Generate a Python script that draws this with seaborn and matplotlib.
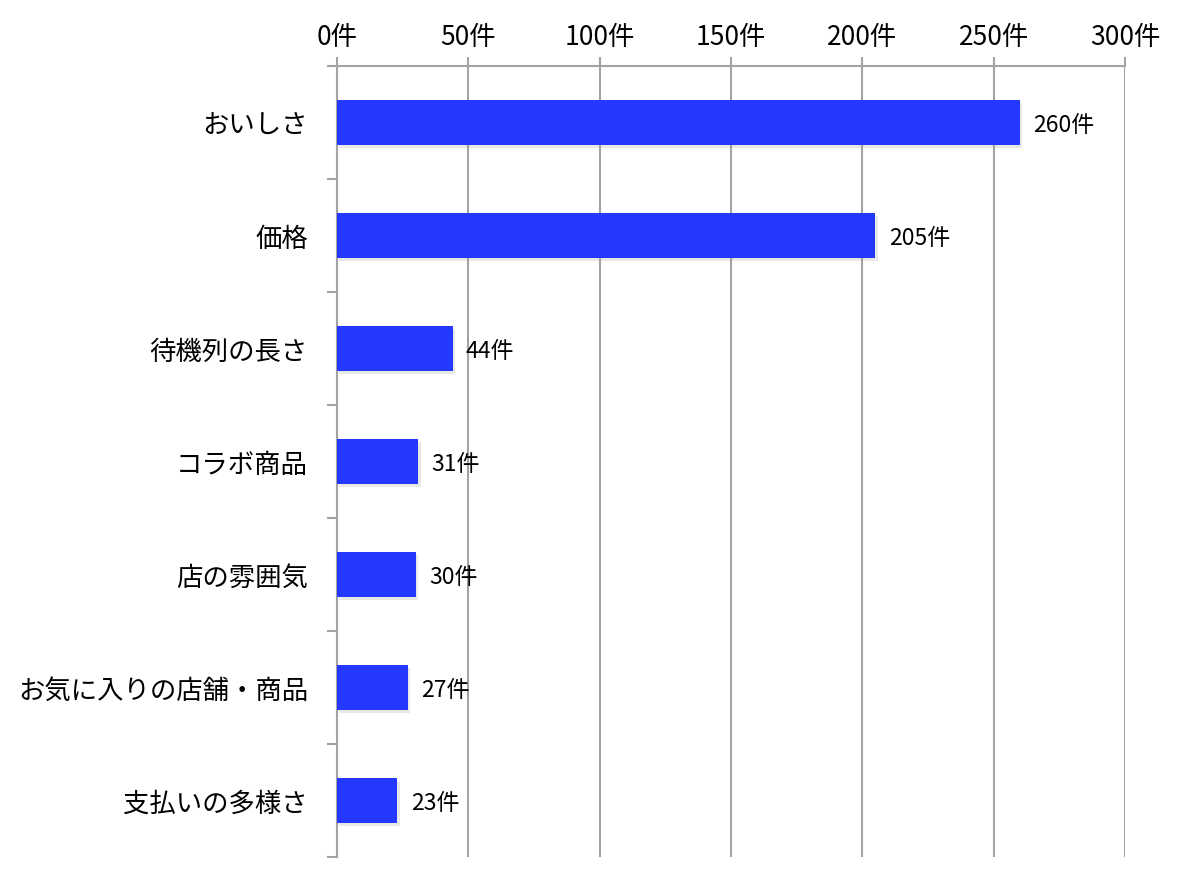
import matplotlib
matplotlib.use("Agg")
import matplotlib.pyplot as plt
import matplotlib.patheffects as pe
import pandas as pd
import seaborn as sns

categories = ["おいしさ", "価格", "待機列の長さ", "コラボ商品", "店の雰囲気", "お気に入りの店舗・商品", "支払いの多様さ"]
counts = [260, 205, 44, 31, 30, 27, 23]
x_ticks = [0, 50, 100, 150, 200, 250, 300]
x_tick_labels = [f"{t}件" for t in x_ticks]

BAR_COLOR = "#2438FF"
AXIS_GRAY = "#A3A3A3"

sns.set_style("white")
plt.rcParams["font.family"] = ["Noto Sans CJK JP", "DejaVu Sans"]
plt.rcParams["text.color"] = "black"
plt.rcParams["xtick.labelcolor"] = "black"
plt.rcParams["ytick.labelcolor"] = "black"

df = pd.DataFrame({"item": categories, "count": counts})

fig = plt.figure(figsize=(11.81, 8.87), dpi=100)
ax = fig.add_axes([0.2854, 0.0327, 0.9526 - 0.2854, 0.9245 - 0.0327])

sns.barplot(data=df, x="count", y="item", orient="h", color=BAR_COLOR,
            width=0.4, saturation=1, linewidth=0, ax=ax, zorder=3)

# soft drop shadow like the original spreadsheet chart
for bar in ax.patches:
    bar.set_path_effects([pe.SimplePatchShadow(offset=(1.5, -2), shadow_rgbFace="#9a9a9a", alpha=0.22),
                          pe.Normal()])

for i, v in enumerate(counts):
    ax.text(v + 5, i + 0.02, f"{v}件", va="center", ha="left", fontsize=16.5, color="black")

ax.set_xlim(0, 300)
ax.set_ylim(len(categories) - 0.5, -0.5)
ax.set_xlabel("")
ax.set_ylabel("")

ax.xaxis.tick_top()
ax.set_xticks(x_ticks)
ax.set_xticklabels(x_tick_labels, fontsize=19)
ax.tick_params(axis="x", which="major", direction="out", length=6.5, width=1.5,
               color=AXIS_GRAY, pad=5, top=True, bottom=False)

ax.set_yticks(range(len(categories)))
ax.set_yticklabels(categories, fontsize=19)
ax.tick_params(axis="y", which="major", length=0, pad=21)
ax.set_yticks([i - 0.5 for i in range(len(categories) + 1)], minor=True)
ax.tick_params(axis="y", which="minor", left=True, direction="out", length=7, width=1.5,
               color=AXIS_GRAY)

ax.grid(axis="x", color=AXIS_GRAY, linewidth=1.5, zorder=0)
ax.grid(axis="y", visible=False)
ax.set_axisbelow(True)

for side in ["right", "bottom"]:
    ax.spines[side].set_visible(False)
for side in ["top", "left"]:
    ax.spines[side].set_visible(True)
    ax.spines[side].set_color(AXIS_GRAY)
    ax.spines[side].set_linewidth(1.5)

fig.savefig("out.png", dpi=100, facecolor="white")
plt.close(fig)
